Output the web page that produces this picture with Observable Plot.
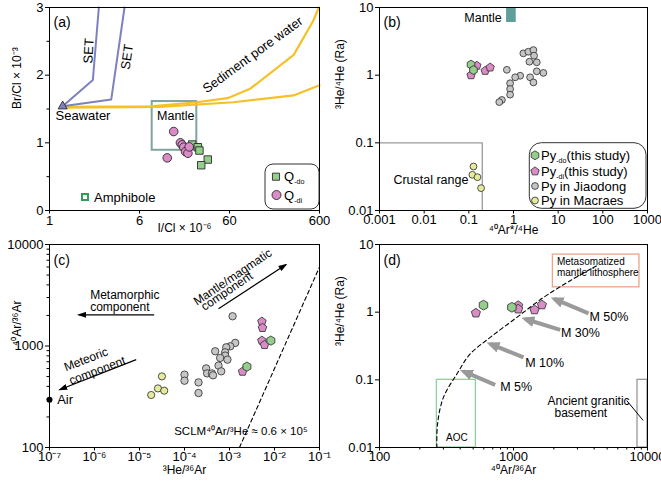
<!DOCTYPE html>
<html><head><meta charset="utf-8">
<script src="https://cdn.jsdelivr.net/npm/d3@7"></script>
<script src="https://cdn.jsdelivr.net/npm/@observablehq/plot@0.6"></script>
<style>
body{margin:0;background:#fff;}
#wrap{position:relative;width:661px;height:481px;overflow:hidden;background:#fff;}
#wrap svg{position:absolute;overflow:visible;}
</style></head><body><div id="wrap"></div>
<script>
// ================= DATA =================
// ---- Panel (a): Br/Cl vs I/Cl ----
const aXTicks = [0.6, 6, 60, 600];
const aXTickLabels = ["1", "6", "60", "600"];
const aYTicks = [0, 1, 2, 3];
const aYMinor = [0.5, 1.5, 2.5];
const seawater = [[0.84, 1.54]];
const setLine1 = [[0.84, 1.54], [1.82, 1.93], [2.12, 3.0]];
const setLine2 = [[0.84, 1.54], [2.91, 1.64], [4.09, 3.0]];
const poreUpper = [[0.84, 1.53], [8, 1.54], [26, 1.60], [57, 1.66], [102, 1.80], [310, 2.30], [510, 2.80], [590, 3.0]];
const poreLower = [[0.84, 1.52], [10, 1.53], [66, 1.60], [308, 1.70], [600, 1.85]];
const mantleBoxA = [{x1: 8.3, x2: 26, y1: 0.89, y2: 1.61}];
const qdoICl = [23.1, 26.7, 27.8, 34.4, 29.1];
const qdoBrCl = [0.975, 0.935, 0.886, 0.753, 0.669];
const qdiICl = [14.4, 17.1, 17.9, 18.6, 19.5, 20.7, 21.4, 12.2];
const qdiBrCl = [1.167, 1.0, 0.97, 0.935, 0.87, 0.846, 0.94, 0.778];

// ---- Panel (b): 3He/4He vs 40Ar*/4He ----
const bXTicks = [0.001, 0.01, 0.1, 1, 10, 100, 1000];
const bYTicks = [0.01, 0.1, 1, 10];
const mantleBoxB = [{x1: 0.7, x2: 1.15, y1: 6, y2: 10}];
const crustalRange = [[0.001, 0.1], [0.2, 0.1], [0.2, 0.01]];
const bPyDoX = [0.112, 0.127];
const bPyDoY = [1.43, 1.19];
const bPyDiX = [0.112, 0.151, 0.232, 0.30];
const bPyDiY = [1.0, 1.38, 1.16, 1.30];
const bJiaoX = [1.66, 2.15, 2.79, 2.89, 2.27, 3.32, 0.71, 3.32, 4.67, 1.41, 1.09, 0.84, 2.35, 2.79, 0.84, 0.84, 0.55, 0.48];
const bJiaoY = [2.10, 2.22, 2.35, 1.94, 1.58, 1.55, 1.20, 1.14, 1.08, 0.98, 0.93, 0.76, 0.93, 0.78, 0.625, 0.515, 0.43, 0.40];
const bMacX = [0.127, 0.12, 0.156, 0.188];
const bMacY = [0.0447, 0.0337, 0.0311, 0.0214];

// ---- Panel (c): 40Ar/36Ar vs 3He/36Ar ----
const cXTicks = [1e-7, 1e-6, 1e-5, 1e-4, 1e-3, 1e-2, 1e-1];
const cYTicks = [100, 1000, 10000];
const cYMinor = [200, 300, 400, 500, 600, 700, 800, 900, 2000, 3000, 4000, 5000, 6000, 7000, 8000, 9000];
const cJiaoX = [1.17e-3, 1.34e-3, 1.04e-3, 8.46e-4, 4.81e-4, 8.0e-4, 8.0e-4, 6.2e-4, 9.0e-4, 5.7e-4, 6.55e-4, 3.03e-4, 3.18e-4, 4.07e-4, 2.05e-4, 2.05e-4, 1.0e-4, 1.0e-4, 4.3e-4];
const cJiaoY = [1963, 1073, 993, 971, 887, 867, 804, 763, 734, 641, 563, 602, 537, 537, 438, 344, 522, 455, 514];
const cMacX = [3.15e-5, 2.57e-5, 3.54e-5, 1.82e-5];
const cMacY = [502, 382, 363, 329];
const cPyDoX = [8.3e-3, 2.44e-3];
const cPyDoY = [1130, 626];
const cPyDiX = [5.25e-3, 5.41e-3, 5.25e-3, 6.0e-3, 1.95e-3];
const cPyDiY = [1740, 1510, 1130, 1025, 559];
const airPoint = [[1e-7, 296]];
const sclmLine = [[1.667e-3, 100], [0.1, 6000]];
const cArrows = [
  {x1: 2.12e-5, y1: 2028, x2: 4.41e-7, y2: 2028},
  {x1: 8.45e-6, y1: 734, x2: 1.67e-7, y2: 371},
  {x1: 5.7e-4, y1: 2323, x2: 1.82e-2, y2: 6363}
];

// ---- Panel (d): 3He/4He vs 40Ar/36Ar ----
const dXTicks = [100, 1000, 10000];
const dXMinor = [200, 300, 400, 500, 600, 700, 800, 900, 2000, 3000, 4000, 5000, 6000, 7000, 8000, 9000];
const dYTicks = [0.01, 0.1, 1, 10];
const dPyDoX = [597, 973];
const dPyDoY = [1.27, 1.18];
const dPyDiX = [524, 1084, 1084, 1435, 1629];
const dPyDiY = [0.97, 1.25, 1.11, 1.08, 1.28];
const mixCurve = [[268, 0.01], [271, 0.0222], [300, 0.055], [378, 0.122], [475, 0.241], [670, 0.424], [1060, 0.838], [1674, 1.65], [2650, 2.92], [4190, 4.87]];
const aocBox = [{x1: 268, x2: 524, y1: 0.01, y2: 0.1}];
const graniteBox = [{x1: 8420, x2: 10000, y1: 0.01, y2: 0.1}];
const graniteLeader = [[7020, 0.049], [9240, 0.0254]];
const metaBox = [{x1: 1968, x2: 8710, y1: 2.33, y2: 7.1}];
const mArrows = [
  {x1: 3630, y1: 0.96, x2: 2013, y2: 1.57, label: "M 50%", lx: 3690, ly: 0.84},
  {x1: 2232, y1: 0.546, x2: 1222, y2: 0.793, label: "M 30%", lx: 2258, ly: 0.486},
  {x1: 1188, y1: 0.214, x2: 670, y2: 0.339, label: "M 10%", lx: 1222, ly: 0.177},
  {x1: 730, y1: 0.0845, x2: 424, y2: 0.133, label: "M 5%", lx: 796, ly: 0.0773}
];

// ================= STYLE =================
const FONT = '"Liberation Sans", Arial, Helvetica, sans-serif';
const C = {green: "#94cd8c", pink: "#d98cc6", gray: "#c6c6c6", yellow: "#e6eb9c", edge: "#2a2a2a",
  set: "#7f80c0", pore: "#f5c126", mantleA: "#7fa39f", mantleB: "#5f9e9b"};

function polygon(n) {
  return {draw(ctx, size) {
    const r = Math.sqrt(size / Math.PI);
    for (let i = 0; i < n; i++) {
      const a = 2 * Math.PI * i / n;
      const px = r * Math.sin(a), py = -r * Math.cos(a);
      if (i === 0) ctx.moveTo(px, py); else ctx.lineTo(px, py);
    }
    ctx.closePath();
  }};
}
const pentagon = polygon(5), hexagon = polygon(6);
const SUP = {"-": "\u207B", "0": "\u2070", "1": "\u00B9", "2": "\u00B2", "3": "\u00B3", "4": "\u2074", "5": "\u2075", "6": "\u2076", "7": "\u2077", "8": "\u2078", "9": "\u2079"};
const sup = s => String(s).split("").map(c => SUP[c] || c).join("");
const X = d => d[0], Y = d => d[1];
const pts = (xs, ys) => xs.map((x, i) => [x, ys[i]]);

function axes(xt, xfmt, yt, yfmt, xMinor, yMinor) {
  const m = [
    Plot.frame({stroke: "#000", strokeWidth: 1}),
    Plot.axisX(xt, {tickSize: 3.5, tickPadding: 1, tickFormat: xfmt, label: null}),
    Plot.axisY(yt, {tickSize: 4, tickPadding: 2, tickFormat: yfmt, label: null})
  ];
  if (xMinor) m.push(Plot.axisX(xMinor, {tickSize: 2.5, tickFormat: () => "", label: null}));
  if (yMinor) m.push(Plot.axisY(yMinor, {tickSize: 2.5, tickFormat: () => "", label: null}));
  return m;
}
function txt(data, o) {
  return Plot.text(data, Object.assign({x: d => d.x, y: d => d.y, text: d => d.t, fontSize: 12, fill: "#000"}, o));
}
function base(o) {
  return Object.assign({
    style: {fontFamily: FONT, fontSize: "13px", background: "transparent", overflow: "visible", color: "#000"}
  }, o);
}
function place(svg, left, top) {
  svg.style.position = "absolute"; svg.style.left = left + "px"; svg.style.top = top + "px";
  document.getElementById("wrap").appendChild(svg);
  return d3.select(svg);
}
function rich(sel, x, y, parts, size) {
  const t = sel.append("text").attr("x", x).attr("y", y).attr("dy", "0.35em").attr("text-anchor", "start")
    .attr("font-size", size).attr("font-family", FONT).attr("fill", "#000");
  let shifted = false;
  parts.forEach(([s, sub]) => {
    const ts = t.append("tspan").text(s);
    if (sub && !shifted) { ts.attr("font-size", size * 0.55).attr("dy", 3); shifted = true; }
    else if (!sub && shifted) { ts.attr("dy", -3); shifted = false; }
    else if (sub) ts.attr("font-size", size * 0.55);
  });
  return t;
}
function addMarker(sel, id, color, len, wid, refFrac) {
  sel.append("defs").append("marker").attr("id", id)
    .attr("viewBox", `0 0 ${len} ${wid}`).attr("refX", len * refFrac).attr("refY", wid / 2)
    .attr("markerWidth", len).attr("markerHeight", wid).attr("markerUnits", "userSpaceOnUse").attr("orient", "auto")
    .append("path").attr("d", `M0,0L${len},${wid / 2}L0,${wid}Z`).attr("fill", color);
}
function applyMarker(sel, id) {
  sel.selectAll('g[aria-label="link"] path, g[aria-label="link"] line').attr("marker-end", `url(#${id})`);
}

// ================= PANEL (a) =================
const pA = Plot.plot(base({
  width: 330, height: 240, marginLeft: 49, marginRight: 11, marginTop: 7, marginBottom: 30,
  x: {type: "log", domain: [0.6, 600], label: null},
  y: {domain: [0, 3], label: null},
  marks: [
    Plot.rect(mantleBoxA, {x1: d => d.x1, x2: d => d.x2, y1: d => d.y1, y2: d => d.y2, fill: "none", stroke: C.mantleA, strokeWidth: 2}),
    Plot.line(poreLower, {x: X, y: Y, stroke: C.pore, strokeWidth: 2.2}),
    Plot.line(poreUpper, {x: X, y: Y, stroke: C.pore, strokeWidth: 2.2}),
    Plot.line(setLine1, {x: X, y: Y, stroke: C.set, strokeWidth: 2}),
    Plot.line(setLine2, {x: X, y: Y, stroke: C.set, strokeWidth: 2}),
    Plot.dot(seawater, {x: X, y: Y, symbol: "triangle", r: 3.4, fill: C.set, stroke: "#222", strokeWidth: 0.8}),
    Plot.dot(pts(qdoICl, qdoBrCl), {x: X, y: Y, symbol: "square", r: 4.2, fill: C.green, stroke: C.edge, strokeWidth: 0.9}),
    Plot.dot(pts(qdiICl, qdiBrCl), {x: X, y: Y, r: 4.3, fill: C.pink, stroke: C.edge, strokeWidth: 0.9}),
    txt([{x: 0.70, y: 1.40, t: "Seawater"}], {textAnchor: "start", fontSize: 13}),
    txt([{x: 9.4, y: 1.39, t: "Mantle"}], {textAnchor: "start", fontSize: 12.5}),
    txt([{x: 1.64, y: 2.36, t: "SET"}], {rotate: -87, fontSize: 13}),
    txt([{x: 4.38, y: 2.27, t: "SET"}], {rotate: -82, fontSize: 13}),
    txt([{x: 109, y: 2.3, t: "Sediment pore water"}], {rotate: -36, fontSize: 13}),
    Plot.text(["(a)"], {frameAnchor: "top-left", dx: 4, dy: 10, fontSize: 14, textAnchor: "start"}),
    Plot.text(["I/Cl \u00D7 10" + sup(-6)], {frameAnchor: "bottom", dy: 21, fontSize: 12}),
    Plot.text(["Br/Cl \u00D7 10" + sup(-3)], {frameAnchor: "left", dx: -32, rotate: -90, fontSize: 12}),
    // x tick labels of (a) drawn as text so the log formatter does not drop "6", "60", "600"
    Plot.text(aXTicks, {x: d => d, frameAnchor: "bottom", dy: 5, lineAnchor: "top", fontSize: 13,
      text: (d, i) => aXTickLabels[i]}),
    ...axes(aXTicks, () => "", aYTicks, d => String(d), null, aYMinor)
  ]
}));
const sA = place(pA, 0, 0);
// legends (a)
sA.append("rect").attr("x", 265).attr("y", 164).attr("width", 54).attr("height", 45).attr("rx", 8)
  .attr("fill", "#fff").attr("stroke", "#333").attr("stroke-width", 1);
sA.append("path").attr("transform", "translate(276,176.7)").attr("d", d3.symbol(d3.symbolSquare, Math.PI * 4 * 4)())
  .attr("fill", C.green).attr("stroke", C.edge).attr("stroke-width", 0.9);
rich(sA, 284, 176.7, [["Q", false], ["-do", true]], 13);
sA.append("circle").attr("cx", 276.5).attr("cy", 195).attr("r", 4.5).attr("fill", C.pink).attr("stroke", C.edge).attr("stroke-width", 0.9);
rich(sA, 284, 195, [["Q", false], ["-di", true]], 13);
sA.append("rect").attr("x", 82).attr("y", 194).attr("width", 6).attr("height", 6)
  .attr("fill", "#fff").attr("stroke", "#2ca05a").attr("stroke-width", 2);
rich(sA, 94, 197, [["Amphibole", false]], 13);

// ================= PANEL (b) =================
const pB = Plot.plot(base({
  width: 331, height: 240, marginLeft: 49, marginRight: 14, marginTop: 7, marginBottom: 30,
  x: {type: "log", domain: [0.001, 1000], label: null},
  y: {type: "log", domain: [0.01, 10], label: null},
  marks: [
    Plot.rect(mantleBoxB, {x1: d => d.x1, x2: d => d.x2, y1: d => d.y1, y2: d => d.y2, fill: C.mantleB}),
    Plot.line(crustalRange, {x: X, y: Y, stroke: "#999", strokeWidth: 1.3}),
    Plot.dot(pts(bJiaoX, bJiaoY), {x: X, y: Y, r: 3.4, fill: C.gray, stroke: C.edge, strokeWidth: 0.8}),
    Plot.dot(pts(bMacX, bMacY), {x: X, y: Y, r: 3.4, fill: C.yellow, stroke: C.edge, strokeWidth: 0.8}),
    Plot.dot(pts(bPyDiX, bPyDiY), {x: X, y: Y, symbol: pentagon, r: 4.4, fill: C.pink, stroke: C.edge, strokeWidth: 0.8}),
    Plot.dot(pts(bPyDoX, bPyDoY), {x: X, y: Y, symbol: hexagon, r: 4.4, fill: C.green, stroke: C.edge, strokeWidth: 0.8}),
    txt([{x: 0.548, y: 6.98, t: "Mantle"}], {textAnchor: "end", fontSize: 12.5}),
    txt([{x: 0.098, y: 0.0278, t: "Crustal range"}], {textAnchor: "end", fontSize: 12.5}),
    Plot.text(["(b)"], {frameAnchor: "top-left", dx: 4, dy: 10, fontSize: 14, textAnchor: "start"}),
    Plot.text([sup(40) + "Ar*/" + sup(4) + "He"], {frameAnchor: "bottom", dy: 23, fontSize: 12}),
    Plot.text([sup(3) + "He/" + sup(4) + "He (Ra)"], {frameAnchor: "left", dx: -39, rotate: -90, fontSize: 12}),
    ...axes(bXTicks, d => String(d), bYTicks, d => String(d), null, null)
  ]
}));
const sB = place(pB, 330, 0);
// legend (b), pixel coords relative to this svg
sB.append("rect").attr("x", 199.3).attr("y", 142.7).attr("width", 116.7).attr("height", 65.6).attr("rx", 12)
  .attr("fill", "#fff").attr("stroke", "#333").attr("stroke-width", 1);
const legB = [
  {sym: hexagon, fill: C.green, y: 155.3, parts: [["Py", false], ["-do", true], ["(this study)", false]]},
  {sym: pentagon, fill: C.pink, y: 171.3, parts: [["Py", false], ["-di", true], ["(this study)", false]]},
  {sym: d3.symbolCircle, fill: C.gray, y: 186, parts: [["Py in Jiaodong", false]]},
  {sym: d3.symbolCircle, fill: C.yellow, y: 200.5, parts: [["Py in Macraes", false]]}
];
legB.forEach(it => {
  const rr = it.sym === d3.symbolCircle ? 3.4 : 4.4;
  sB.append("path").attr("transform", `translate(205,${it.y})`).attr("d", d3.symbol(it.sym, Math.PI * rr * rr)())
    .attr("fill", it.fill).attr("stroke", C.edge).attr("stroke-width", 0.8);
  rich(sB, 211, it.y, it.parts, 13);
});

// ================= PANEL (c) =================
const pC = Plot.plot(base({
  width: 330, height: 241, marginLeft: 49, marginRight: 11, marginTop: 4, marginBottom: 34,
  x: {type: "log", domain: [1e-7, 1e-1], label: null},
  y: {type: "log", domain: [100, 10000], label: null},
  marks: [
    Plot.line(sclmLine, {x: X, y: Y, stroke: "#000", strokeWidth: 1.1, strokeDasharray: "4,3"}),
    Plot.link(cArrows, {x1: d => d.x1, y1: d => d.y1, x2: d => d.x2, y2: d => d.y2, stroke: "#000", strokeWidth: 1.2}),
    Plot.dot(pts(cJiaoX, cJiaoY), {x: X, y: Y, r: 3.7, fill: C.gray, stroke: C.edge, strokeWidth: 0.8}),
    Plot.dot(pts(cMacX, cMacY), {x: X, y: Y, r: 3.6, fill: C.yellow, stroke: C.edge, strokeWidth: 0.8}),
    Plot.dot(pts(cPyDiX, cPyDiY), {x: X, y: Y, symbol: pentagon, r: 4.5, fill: C.pink, stroke: C.edge, strokeWidth: 0.8}),
    Plot.dot(pts(cPyDoX, cPyDoY), {x: X, y: Y, symbol: hexagon, r: 4.6, fill: C.green, stroke: C.edge, strokeWidth: 0.8}),
    Plot.dot(airPoint, {x: X, y: Y, r: 3, fill: "#000"}),
    txt([{x: 1.48e-7, y: 296, t: "Air"}], {textAnchor: "start", fontSize: 13}),
    txt([{x: 8.0e-7, y: 2787, t: "Metamorphic\ncomponent"}], {textAnchor: "start", fontSize: 12, lineHeight: 1.05}),
    txt([{x: 6.47e-7, y: 738, t: "Meteoric"}], {rotate: -21, fontSize: 12}),
    txt([{x: 1.15e-6, y: 572, t: "component"}], {rotate: -21, fontSize: 12}),
    txt([{x: 1.18e-3, y: 4770, t: "Mantle/magmatic"}], {rotate: -34, fontSize: 12}),
    txt([{x: 8.75e-4, y: 3459, t: "component"}], {rotate: -34, fontSize: 12}),
    txt([{x: 5.9e-5, y: 146, t: "SCLM" + sup(40) + "Ar/" + sup(3) + "He \u2248 0.6 \u00D7 10" + sup(5)}], {textAnchor: "start", fontSize: 11.5}),
    Plot.text(["(c)"], {frameAnchor: "top-left", dx: 4, dy: 11, fontSize: 14, textAnchor: "start"}),
    Plot.text([sup(3) + "He/" + sup(36) + "Ar"], {frameAnchor: "bottom", dy: 26, fontSize: 12}),
    Plot.text([sup(40) + "Ar/" + sup(36) + "Ar"], {frameAnchor: "left", dx: -32, rotate: -90, fontSize: 12}),
    ...axes(cXTicks, d => "10" + sup(Math.round(Math.log10(d))), cYTicks, d => String(d), null, cYMinor)
  ]
}));
const sC = place(pC, 0, 240);
addMarker(sC, "ahBlack", "#000", 9, 6, 0.85);
applyMarker(sC, "ahBlack");

// ================= PANEL (d) =================
const pD = Plot.plot(base({
  width: 331, height: 241, marginLeft: 49, marginRight: 14, marginTop: 4, marginBottom: 34,
  x: {type: "log", domain: [100, 10000], label: null},
  y: {type: "log", domain: [0.01, 10], label: null},
  marks: [
    Plot.rect(aocBox, {x1: d => d.x1, x2: d => d.x2, y1: d => d.y1, y2: d => d.y2, fill: "none", stroke: "#8fd09c", strokeWidth: 1.3}),
    Plot.rect(graniteBox, {x1: d => d.x1, x2: d => d.x2, y1: d => d.y1, y2: d => d.y2, fill: "none", stroke: "#999", strokeWidth: 1.3}),
    Plot.rect(metaBox, {x1: d => d.x1, x2: d => d.x2, y1: d => d.y1, y2: d => d.y2, fill: "#fff", stroke: "#e8a587", strokeWidth: 1.3}),
    txt([{x: 2109, y: 5.64, t: "Metasomatized"}], {textAnchor: "start", fontSize: 10}),
    txt([{x: 2109, y: 3.80, t: "mantle lithosphere"}], {textAnchor: "start", fontSize: 10}),
    Plot.line(mixCurve, {x: X, y: Y, curve: "catmull-rom", stroke: "#000", strokeWidth: 1.1, strokeDasharray: "4,3"}),
    Plot.link(mArrows, {x1: d => d.x1, y1: d => d.y1, x2: d => d.x2, y2: d => d.y2, stroke: "#9a9a9a", strokeWidth: 4}),
    txt(mArrows, {x: d => d.lx, y: d => d.ly, text: d => d.label, textAnchor: "start", fontSize: 12.5}),
    Plot.dot(pts(dPyDiX, dPyDiY), {x: X, y: Y, symbol: pentagon, r: 4.8, fill: C.pink, stroke: C.edge, strokeWidth: 0.8}),
    Plot.dot(pts(dPyDoX, dPyDoY), {x: X, y: Y, symbol: hexagon, r: 4.9, fill: C.green, stroke: C.edge, strokeWidth: 0.8}),
    txt([{x: 378, y: 0.0141, t: "AOC"}], {fontSize: 10}),
    txt([{x: 1794, y: 0.0482, t: "Ancient granitic"}], {textAnchor: "start", fontSize: 12}),
    txt([{x: 2023, y: 0.0321, t: "basement"}], {textAnchor: "start", fontSize: 12}),
    Plot.line(graniteLeader, {x: X, y: Y, stroke: "#000", strokeWidth: 1}),
    Plot.text(["(d)"], {frameAnchor: "top-left", dx: 4, dy: 11, fontSize: 14, textAnchor: "start"}),
    Plot.text([sup(40) + "Ar/" + sup(36) + "Ar"], {frameAnchor: "bottom", dy: 26, fontSize: 12}),
    Plot.text([sup(3) + "He/" + sup(4) + "He (Ra)"], {frameAnchor: "left", dx: -39, rotate: -90, fontSize: 12}),
    ...axes(dXTicks, d => String(d), dYTicks, d => String(d), dXMinor, null)
  ]
}));
const sD = place(pD, 330, 240);
addMarker(sD, "ahGray", "#9a9a9a", 13, 11, 0.7);
applyMarker(sD, "ahGray");
</script></body></html>
